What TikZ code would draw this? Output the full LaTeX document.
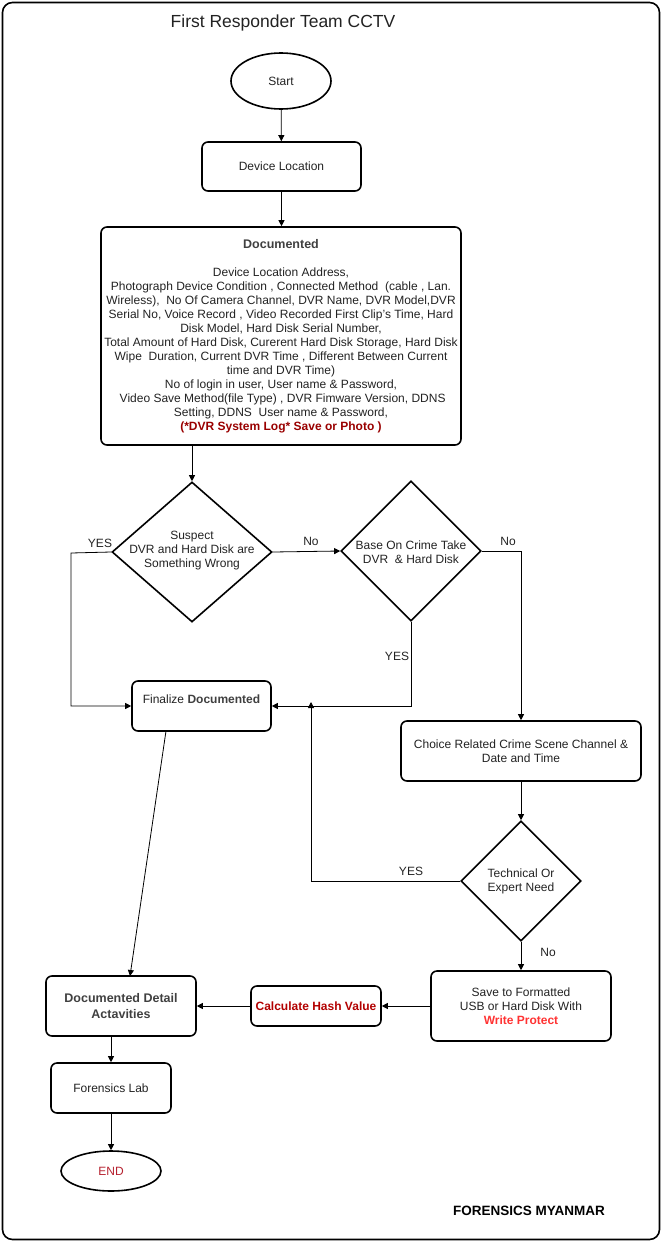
\documentclass[tikz,border=0pt]{standalone}
\usepackage{fontspec}
\setmainfont{Liberation Sans}
\usetikzlibrary{shapes.geometric,arrows.meta}
\definecolor{txt}{HTML}{222222}
\definecolor{ttl}{HTML}{404040}
\definecolor{dred}{HTML}{990000}
\definecolor{hred}{HTML}{B20000}
\definecolor{bred}{HTML}{FF3333}
\definecolor{ered}{HTML}{B5202E}
\tikzset{
  box/.style={draw, line width=1.6pt, rounded corners=6pt, align=center, text=txt, font=\fontsize{12}{14}\selectfont, inner sep=2pt},
  decision/.style={draw, diamond, line width=1.6pt, inner sep=0pt},
  term/.style={draw, ellipse, line width=1.6pt, text=txt, font=\fontsize{12}{14}\selectfont},
  dtext/.style={align=center, text=txt, font=\fontsize{12}{14}\selectfont},
  lbl/.style={text=txt, font=\fontsize{12}{14}\selectfont, inner sep=0pt},
  arr/.style={draw, line width=0.8pt, -{Triangle[length=6pt,width=6pt]}},
  ln/.style={draw, line width=0.8pt}
}
\begin{document}
\begin{tikzpicture}[x=1pt,y=-1pt]
\useasboundingbox (0,0) rectangle (662,1242);
\node[draw, line width=1.6pt, rounded corners=10pt, minimum width=657pt, minimum height=1237pt, inner sep=0pt] (frame) at (331,621) {};
\node[text=txt, font=\fontsize{17.5}{20}\selectfont] (title) at (283,23) {First Responder Team CCTV};

\node[term, minimum width=100pt, minimum height=56pt] (start) at (281,81) {Start};
\node[box, minimum width=159pt, minimum height=49pt] (loc) at (281.5,166.5) {Device Location};
\node[box, minimum width=360pt, minimum height=218pt] (doc) at (281,336) {\textcolor{ttl}{\fontsize{12.5}{14}\selectfont\textbf{Documented}}\\[14pt]
Device Location Address,\\
Photograph Device Condition , Connected Method~ (cable , Lan.\\
Wireless),~ No Of Camera Channel, DVR Name, DVR Model,DVR\\
Serial No, Voice Record , Video Recorded First Clip's Time, Hard\\
Disk Model, Hard Disk Serial Number,\\
Total Amount of Hard Disk, Curerent Hard Disk Storage, Hard Disk\\
Wipe~ Duration, Current DVR Time , Different Between Current\\
time and DVR Time)\\
No of login in user, User name \& Password,\\
~Video Save Method(file Type) , DVR Fimware Version, DDNS\\
Setting, DDNS~ User name \& Password,\\
\textcolor{dred}{\textbf{(*DVR System Log* Save or Photo )}}};

\node[decision, minimum width=160pt, minimum height=140pt] (d1) at (192,552) {};
\node[dtext] (d1t) at (192,551) {Suspect\\DVR and Hard Disk are\\Something Wrong};
\node[decision, minimum width=140pt, minimum height=140pt] (d2) at (411,551) {};
\node[dtext] (d2t) at (411,552) {Base On Crime Take\\DVR~ \& Hard Disk};

\node[box, minimum width=139pt, minimum height=50pt] (fin) at (201.5,706) {Finalize \textcolor{ttl}{\textbf{Documented}}\\\mbox{}};
\node[box, minimum width=240pt, minimum height=60pt] (cho) at (521,751) {Choice Related Crime Scene Channel \&\\Date and Time};

\node[decision, minimum width=120pt, minimum height=120pt] (d3) at (521,881) {};
\node[dtext] (d3t) at (521,881) {Technical Or\\Expert Need};

\node[box, minimum width=180pt, minimum height=70pt] (save) at (521,1006) {Save to Formatted\\USB or Hard Disk With\\\textcolor{bred}{\textbf{Write Protect}}};
\node[box, minimum width=130pt, minimum height=40pt] (hash) at (316,1006) {\textcolor{hred}{\textbf{Calculate Hash Value}}};
\node[box, minimum width=150pt, minimum height=60pt, text=ttl, font=\fontsize{12.5}{16}\selectfont\bfseries] (det) at (121,1006) {Documented Detail\\Actavities};
\node[box, minimum width=120pt, minimum height=50pt] (lab) at (111,1088) {Forensics Lab};
\node[term, minimum width=100pt, minimum height=40pt, text=ered] (end) at (111,1171) {END};

\node[text=black, font=\fontsize{13.5}{16}\selectfont\bfseries] (brand) at (529,1211) {FORENSICS MYANMAR};

\coordinate (c1) at (71,553);
\coordinate (c2) at (71,706);
\coordinate (c3) at (411,706);
\coordinate (c4) at (521,551);
\coordinate (c5) at (311,881);
\coordinate (c6) at (311,702);
\coordinate (c7) at (166,731);
\coordinate (c8) at (130,976);

\path[arr] (start) -- (loc);
\path[arr] (loc) -- (loc |- doc.north);
\path[arr] (192,445) -- (d1.north);
\path[arr] (d1.west) -- (c1) -- (c2) -- (fin.west);
\path[arr] (d1.east) -- (d2.west);
\path[arr] (d2.south) -- (c3) -- (fin.east);
\path[arr] (d2.east) -- (c4) -- (cho.north);
\path[arr] (cho.south) -- (d3.north);
\path[arr] (d3.west) -- (c5) -- (c6);
\path[arr] (d3.south) -- (save.north);
\path[arr] (save.west) -- (hash.east);
\path[arr] (hash.west) -- (det.east);
\path[arr] (c7) -- (c8);
\path[arr] (111,1036) -- (lab.north);
\path[arr] (lab.south) -- (end.north);

\node[lbl] (l1) at (100,543) {YES};
\node[lbl] (l2) at (311,541) {No};
\node[lbl] (l3) at (397,656) {YES};
\node[lbl] (l4) at (508,541) {No};
\node[lbl] (l5) at (411,871) {YES};
\node[lbl] (l6) at (548,952) {No};
\end{tikzpicture}
\end{document}
